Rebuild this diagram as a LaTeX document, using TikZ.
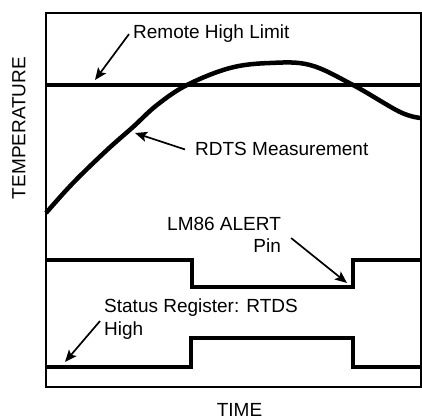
\documentclass[tikz,border=0pt]{standalone}
\usepackage{fontspec}
\setmainfont{Liberation Sans}
\usepackage{tikz}
\usetikzlibrary{arrows,arrows.meta}
\tikzstyle{arrow} = [line width=1.7pt,-{Stealth[length=12pt,width=10pt,inset=2.5pt]}]
\tikzstyle{signal} = [line width=4pt, line join=miter]
\tikzstyle{lbltext} = [inner sep=0pt, font=\fontsize{19}{22}\selectfont]

\begin{document}
\begin{tikzpicture}[x=1pt,y=-1pt]
\useasboundingbox (0,0) rectangle (422,419);
% frame and axis names
\draw[line width=2pt] (46,13) rectangle (420.5,387);
\node[lbltext, rotate=90] (temp) at (19,128) {TEMPERATURE};
\node[lbltext, anchor=base] (time) at (239.5,416.5) {TIME};

% limit and measurement
\draw[signal] (46,85) -- (420.5,85);
\draw[line width=4.5pt] plot[smooth, tension=0.6] coordinates {(46,213) (73,183) (107,150) (133,127) (157,105) (187,85) (230,68) (270,63) (310,65) (353,85) (400,112) (421,118)};

% alert pin and status register
\draw[signal] (46,260) -- (192,260) -- (192,287) -- (353,287) -- (353,260) -- (420.5,260);
\draw[signal] (46,367) -- (191,367) -- (191,338) -- (353,338) -- (353,367) -- (420.5,367);

% texts
\node[lbltext, anchor=base west] (limit) at (133,39) {Remote High Limit};
\node[lbltext, anchor=base west] (rdts) at (195,156) {RDTS Measurement};
\node[lbltext, anchor=base west] (alert) at (167,230) {LM86 ALERT};
\node[lbltext, anchor=base east] (pin) at ([yshift=-22pt]alert.base east) {Pin};
\node[lbltext, anchor=base west] (status) at (104,312) {Status Register: RTDS};
\node[lbltext, anchor=base west] (high) at ([yshift=-23pt]status.base west) {High};

% pointers
\coordinate (limittip) at (95,80);
\coordinate (rdtstip) at (135,133);
\coordinate (pintip) at (347,283);
\coordinate (hightip) at (65,362);
\draw[arrow] ([xshift=-4pt]limit.west) -- (limittip);
\draw[arrow] ([xshift=-10pt]rdts.west) -- (rdtstip);
\draw[arrow] ([xshift=10pt]pin.north east) -- (pintip);
\draw[arrow] ([xshift=-4pt]high.north west) -- (hightip);
\end{tikzpicture}
\end{document}
